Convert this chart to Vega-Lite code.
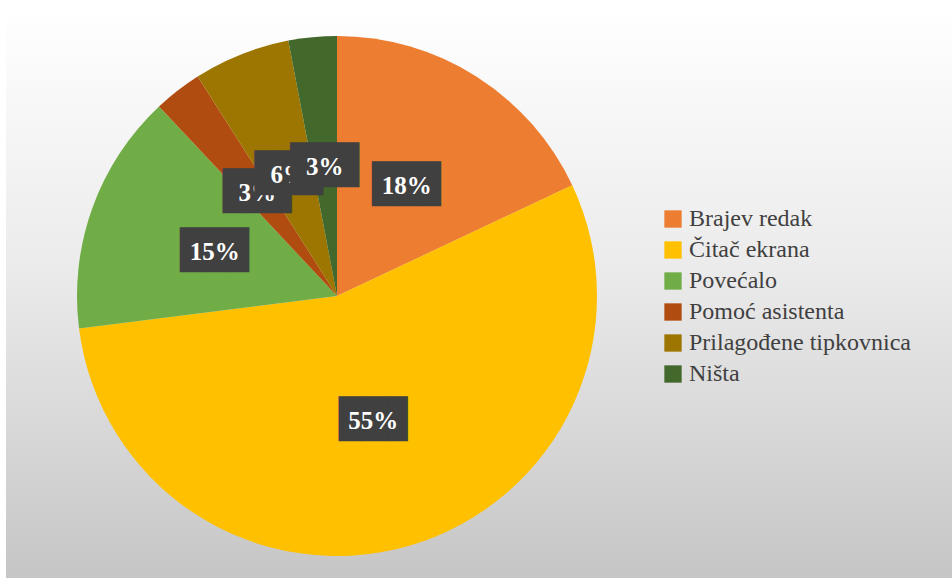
{
  "$schema": "https://vega.github.io/schema/vega-lite/v6.json",
  "padding": {"left": 6, "top": 8, "right": 0, "bottom": 0},
  "background": "#ffffff",
  "spacing": 0,
  "config": {
    "view": {"stroke": null, "fill": "#e6e6e6"},
    "concat": {"spacing": 0},
    "legend": {"labelFont": "Liberation Serif", "labelFontSize": 24, "labelColor": "#404040"}
  },
  "data": {"values": [
    {"cat": "Brajev redak", "value": 0.18, "idx": 1},
    {"cat": "Čitač ekrana", "value": 0.55, "idx": 2},
    {"cat": "Povećalo", "value": 0.15, "idx": 3},
    {"cat": "Pomoć asistenta", "value": 0.03, "idx": 4},
    {"cat": "Prilagođene tipkovnica", "value": 0.06, "idx": 5},
    {"cat": "Ništa", "value": 0.03, "idx": 6}
  ]},
  "hconcat": [
    {
      "width": 662,
      "height": 576,
      "view": {"stroke": null, "fill": {"gradient": "linear", "x1": 0, "y1": 0, "x2": 0, "y2": 1,
        "stops": [{"offset": 0, "color": "#ffffff"}, {"offset": 0.45, "color": "#ebebeb"}, {"offset": 1, "color": "#c5c5c5"}]}},
      "encoding": {
        "theta": {"field": "value", "type": "quantitative", "stack": true},
        "order": {"field": "idx", "type": "quantitative"}
      },
      "layer": [
        {
          "mark": {"type": "arc", "outerRadius": 260},
          "encoding": {
            "color": {
              "field": "cat", "type": "nominal", "sort": null,
              "scale": {
                "domain": ["Brajev redak", "Čitač ekrana", "Povećalo", "Pomoć asistenta", "Prilagođene tipkovnica", "Ništa"],
                "range": ["#ED7D31", "#FFC000", "#70AD47", "#B04C0F", "#9C7600", "#43682B"]
              },
              "legend": {
                "orient": "none", "legendX": 655, "legendY": 199, "title": null,
                "symbolType": "square", "symbolSize": 300, "symbolStrokeWidth": 0,
                "labelFont": "Liberation Serif", "labelFontSize": 24, "labelColor": "#404040",
                "rowPadding": 7, "labelOffset": 4, "padding": 0, "labelLimit": 400
              }
            }
          }
        },
        {
          "mark": {"type": "text", "radius": 130, "font": "DejaVu Sans Mono", "fontSize": 38, "baseline": "middle", "align": "center", "color": "#404040"},
          "encoding": {"text": {"value": "███"}, "opacity": {"condition": {"test": "datum.idx <= 3", "value": 1}, "value": 0}}
        },
        {
          "mark": {"type": "text", "radius": 130, "font": "Liberation Serif", "fontWeight": "bold", "fontSize": 25, "baseline": "middle", "align": "center", "color": "#ffffff"},
          "encoding": {"text": {"field": "value", "format": ".0%"}, "opacity": {"condition": {"test": "datum.idx <= 3", "value": 1}, "value": 0}}
        },
        {
          "mark": {"type": "text", "radius": 130, "font": "DejaVu Sans Mono", "fontSize": 38, "baseline": "middle", "align": "center", "color": "#404040"},
          "encoding": {"text": {"value": "███"}, "opacity": {"condition": {"test": "datum.idx == 4", "value": 1}, "value": 0}}
        },
        {
          "mark": {"type": "text", "radius": 130, "font": "Liberation Serif", "fontWeight": "bold", "fontSize": 25, "baseline": "middle", "align": "center", "color": "#ffffff"},
          "encoding": {"text": {"field": "value", "format": ".0%"}, "opacity": {"condition": {"test": "datum.idx == 4", "value": 1}, "value": 0}}
        },
        {
          "mark": {"type": "text", "radius": 130, "font": "DejaVu Sans Mono", "fontSize": 38, "baseline": "middle", "align": "center", "color": "#404040"},
          "encoding": {"text": {"value": "███"}, "opacity": {"condition": {"test": "datum.idx == 5", "value": 1}, "value": 0}}
        },
        {
          "mark": {"type": "text", "radius": 130, "font": "Liberation Serif", "fontWeight": "bold", "fontSize": 25, "baseline": "middle", "align": "center", "color": "#ffffff"},
          "encoding": {"text": {"field": "value", "format": ".0%"}, "opacity": {"condition": {"test": "datum.idx == 5", "value": 1}, "value": 0}}
        },
        {
          "mark": {"type": "text", "radius": 130, "font": "DejaVu Sans Mono", "fontSize": 38, "baseline": "middle", "align": "center", "color": "#404040"},
          "encoding": {"text": {"value": "███"}, "opacity": {"condition": {"test": "datum.idx == 6", "value": 1}, "value": 0}}
        },
        {
          "mark": {"type": "text", "radius": 130, "font": "Liberation Serif", "fontWeight": "bold", "fontSize": 25, "baseline": "middle", "align": "center", "color": "#ffffff"},
          "encoding": {"text": {"field": "value", "format": ".0%"}, "opacity": {"condition": {"test": "datum.idx == 6", "value": 1}, "value": 0}}
        }
      ]
    },
    {
      "width": 284,
      "height": 576,
      "data": {"values": []},
      "view": {"stroke": null, "fill": {"gradient": "linear", "x1": 0, "y1": 0, "x2": 0, "y2": 1,
        "stops": [{"offset": 0, "color": "#ffffff"}, {"offset": 0.45, "color": "#ebebeb"}, {"offset": 1, "color": "#c5c5c5"}]}},
      "mark": "point",
      "encoding": {}
    }
  ]
}
